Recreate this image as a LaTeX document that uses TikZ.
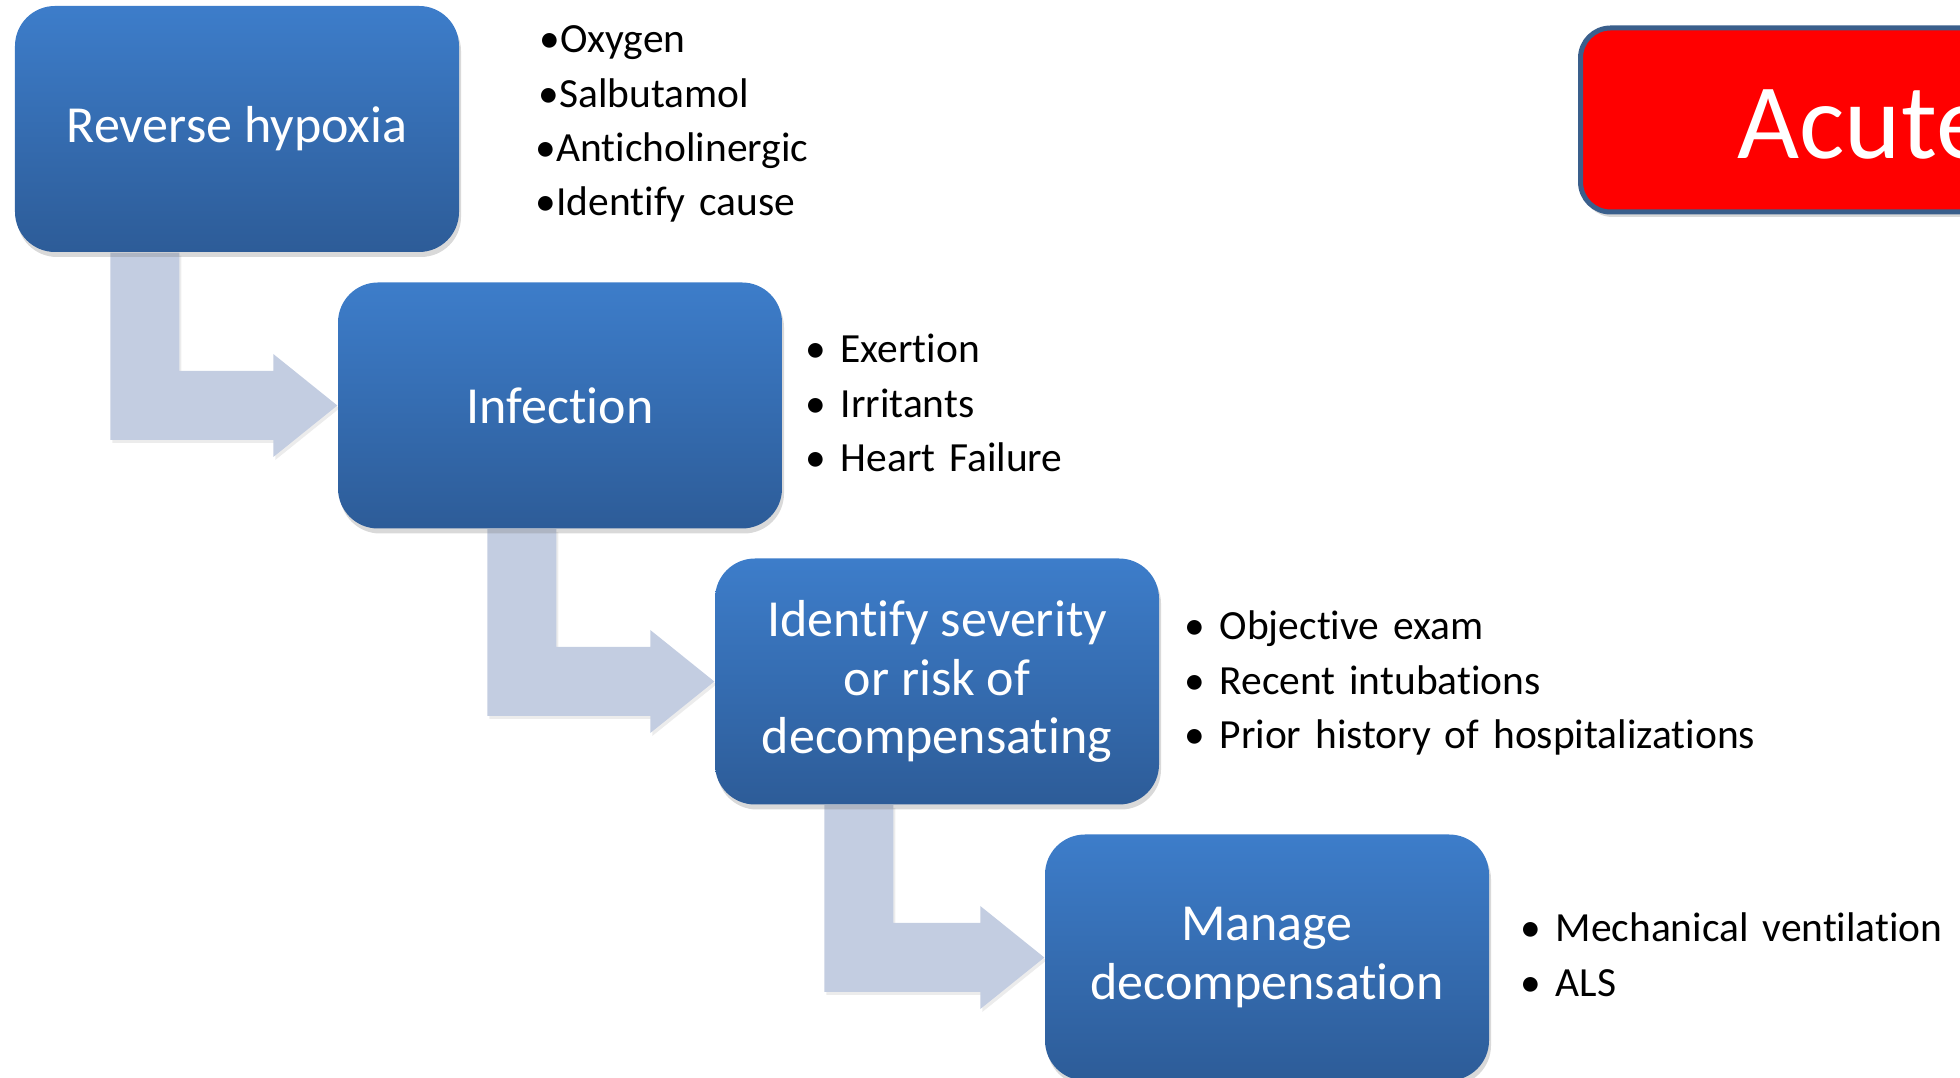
\documentclass[tikz,border=0pt]{standalone}
\usepackage{fontspec}
\setmainfont{Carlito}[RawFeature={-liga;-clig;-calt;-dlig}]
\usetikzlibrary{calc,shadows,backgrounds}

\definecolor{boxtop}{RGB}{61,125,202}
\definecolor{boxbot}{RGB}{45,92,152}
\definecolor{flowgray}{RGB}{195,205,225}
\definecolor{titleedge}{RGB}{58,95,140}
\newcommand{\itm}{\makebox[0.35cm][l]{\textbullet}}

\begin{document}
\begin{tikzpicture}[
    stage/.style={rectangle, rounded corners=0.4cm, draw=none, minimum width=4.44cm, minimum height=2.46cm,
      top color=boxtop, bottom color=boxbot, text=white, align=center,
      font=\fontsize{14.8}{16.6}\selectfont,
      drop shadow={opacity=0.3, shadow xshift=0.02cm, shadow yshift=-0.05cm}},
    notes/.style={anchor=base west, inner sep=0pt, text width=6cm, align=left, font=\fontsize{11.8}{15.4}\selectfont},
    flow/.style={fill=flowgray, drop shadow={opacity=0.15, shadow xshift=0.02cm, shadow yshift=-0.03cm}},
    titlebox/.style={rectangle, rounded corners=0.3cm, fill=red, draw=titleedge, line width=0.05cm,
      minimum height=1.84cm, text width=5.5cm, inner xsep=1.57cm, align=left, text=white,
      text height=0.78cm, text depth=0cm, font=\fontsize{30.5}{36}\selectfont,
      drop shadow={opacity=0.3, shadow xshift=0.02cm, shadow yshift=-0.05cm}}
  ]
  \useasboundingbox (0,0) rectangle (19.6,-10.78);

  \node (rh)  [stage] at (2.37,-1.29) {Reverse hypoxia};
  \node (inf) [stage] at (5.60,-4.055) {Infection};
  \node (sev) [stage] at (9.37,-6.815) {Identify severity\\or risk of\\decompensating};
  \node (man) [stage] at (12.67,-9.575) {Manage\\decompensation};

  \node (title) [titlebox, anchor=west] at (15.78,-1.20) {Acute};

  \node (rh-notes)  [notes] at (5.35,-0.53) {\hspace{0.04cm}\textbullet Oxygen\\\hspace{0.03cm}\textbullet Salbutamol\\\textbullet Anticholinergic\\\textbullet Identify cause};
  \node (inf-notes) [notes] at (8.05,-3.63) {\itm Exertion\\\itm Irritants\\\itm Heart Failure};
  \node (sev-notes) [notes] at (11.84,-6.40) {\itm Objective exam\\\itm Recent intubations\\\itm Prior history of hospitalizations};
  \node (man-notes) [notes] at (15.20,-9.42) {\itm Mechanical ventilation\\\itm ALS};

  \begin{scope}[on background layer]
    \fill[flow] ($(rh.south west)+(0.96,0)$) -- ++(0.69,0) |- ($(inf.west)+(-0.64,0.345)$) -- ++(0,0.17)
      -- (inf.west) -- ++(-0.64,-0.515) -- ++(0,0.17) -| ($(rh.south west)+(0.96,0)$);
    \fill[flow] ($(inf.south west)+(1.50,0)$) -- ++(0.69,0) |- ($(sev.west)+(-0.64,0.345)$) -- ++(0,0.17)
      -- (sev.west) -- ++(-0.64,-0.515) -- ++(0,0.17) -| ($(inf.south west)+(1.50,0)$);
    \fill[flow] ($(sev.south west)+(1.10,0)$) -- ++(0.69,0) |- ($(man.west)+(-0.64,0.345)$) -- ++(0,0.17)
      -- (man.west) -- ++(-0.64,-0.515) -- ++(0,0.17) -| ($(sev.south west)+(1.10,0)$);
  \end{scope}
\end{tikzpicture}
\end{document}
